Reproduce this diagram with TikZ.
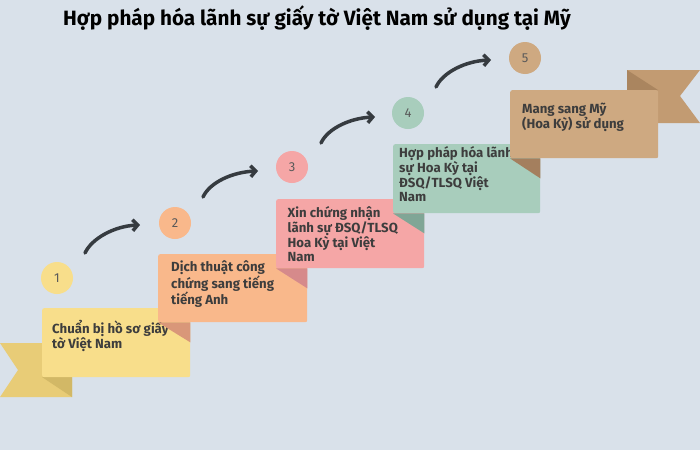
\documentclass[tikz,border=0pt]{standalone}
\usepackage{fontspec}
\setmainfont{Fira Sans}
\usetikzlibrary{arrows.meta}
\definecolor{bg}{HTML}{D9E1EA}
\definecolor{txt}{HTML}{3D3D3D}
\definecolor{arr}{HTML}{363B40}
\definecolor{cA}{HTML}{F8DE8B}
\definecolor{cArib}{HTML}{E8CC77}
\definecolor{cAdk}{HTML}{D2B866}
\definecolor{cB}{HTML}{F9B88B}
\definecolor{cBdk}{HTML}{D99779}
\definecolor{cC}{HTML}{F5A6A6}
\definecolor{cCdk}{HTML}{D68A8B}
\definecolor{cD}{HTML}{A8CDBC}
\definecolor{cDdk}{HTML}{80A696}
\definecolor{cE}{HTML}{CEA981}
\definecolor{cEdk}{HTML}{A47F5E}
\definecolor{cErib}{HTML}{C29B72}
\definecolor{cEribdk}{HTML}{AA855F}
\begin{document}
\begin{tikzpicture}[x=1pt,y=-1pt,
  card/.style={rectangle, rounded corners=2pt, inner sep=0pt, anchor=north west},
  numdot/.style={circle, minimum size=32pt, inner sep=0pt, text=txt!85,
     font=\fontsize{13}{15}\selectfont},
  label/.style={anchor=north west, inner sep=0pt, text=txt, align=left,
     font=\fontsize{13.2}{13.8}\selectfont\bfseries},
  flow/.style={draw=arr, line width=3.5pt, line cap=round,
     -{Straight Barb[length=5pt,width=11pt]}}]
\fill[bg] (0,0) rectangle (700,450);
\useasboundingbox (0,0) rectangle (700,450);

% title
\node[anchor=base west, inner sep=0pt, font=\fontsize{20.7}{24}\selectfont\bfseries] (title) at (63,25)
  {Hợp pháp hóa lãnh sự giấy tờ Việt Nam sử dụng tại Mỹ};

% left ribbon
\fill[cArib] (0,343) -- (72,343) -- (72,397) -- (0,397) -- (18,370) -- cycle;
\fill[cAdk] (42,377) -- (72,377) -- (72,397) -- cycle;
% right ribbon
\fill[cErib] (627,70) -- (700,70) -- (680,96) -- (700,123) -- (627,123) -- cycle;
\fill[cEribdk] (627,70) -- (627,90) -- (658,90) -- cycle;

% step 1
\node[card, fill=cA, minimum width=148pt, minimum height=69pt] (b1) at (42,308) {};
\node[label] (t1) at (52,318) {\rule{0pt}{15pt}Chuẩn bị hồ sơ giấy\\tờ Việt Nam};
% step 2
\node[card, fill=cB, minimum width=149pt, minimum height=68pt] (b2) at (158,254) {};
\fill[cBdk] (b2.south west) -- (b2.south west -| b1.north east) -- ([yshift=-20pt]b2.south west -| b1.north east) -- cycle;
\node[label] (t2) at (171,256) {\rule{0pt}{15pt}Dịch thuật công\\chứng sang tiếng\\tiếng Anh};
% step 3
\node[card, fill=cC, minimum width=148pt, minimum height=69pt] (b3) at (276,199) {};
\fill[cCdk] (b3.south west) -- (b3.south west -| b2.north east) -- ([yshift=-20pt]b3.south west -| b2.north east) -- cycle;
\node[label] (t3) at (287.5,202) {\rule{0pt}{15pt}Xin chứng nhận\\lãnh sự ĐSQ/TLSQ\\Hoa Kỳ tại Việt\\Nam};
% step 4
\node[card, fill=cD, minimum width=147pt, minimum height=69pt] (b4) at (393,144) {};
\fill[cDdk] (b4.south west) -- (b4.south west -| b3.north east) -- ([yshift=-20pt]b4.south west -| b3.north east) -- cycle;
\node[label] (t4) at (399,142) {\rule{0pt}{15pt}Hợp pháp hóa lãnh\\sự Hoa Kỳ tại\\ĐSQ/TLSQ Việt\\Nam};
% step 5
\node[card, fill=cE, minimum width=148pt, minimum height=68pt] (b5) at (510,90) {};
\fill[cEdk] (b5.south west) -- (b5.south west -| b4.north east) -- ([yshift=-20pt]b5.south west -| b4.north east) -- cycle;
\node[label] (t5) at (522,98) {\rule{0pt}{15pt}Mang sang Mỹ\\(Hoa Kỳ) sử dụng};

% numbers
\node[numdot, fill=cA] (n1) at (57,278) {1};
\node[numdot, fill=cB] (n2) at (175,223) {2};
\node[numdot, fill=cC] (n3) at (292,167) {3};
\node[numdot, fill=cD] (n4) at (408,113) {4};
\node[numdot, fill=cE] (n5) at (525,58) {5};

% arrows
\coordinate (a1s) at (85,253); \coordinate (a1e) at (140,225);
\coordinate (a2s) at (203,197); \coordinate (a2e) at (258,171);
\coordinate (a3s) at (321,143); \coordinate (a3e) at (375,117);
\coordinate (a4s) at (436,87);  \coordinate (a4e) at (491,60);
\draw[flow] (a1s) .. controls (92,238) and (115,226) .. (a1e);
\draw[flow] (a2s) .. controls (210,182) and (233,172) .. (a2e);
\draw[flow] (a3s) .. controls (328,128) and (351,118) .. (a3e);
\draw[flow] (a4s) .. controls (443,72) and (466,61) .. (a4e);
\end{tikzpicture}
\end{document}
